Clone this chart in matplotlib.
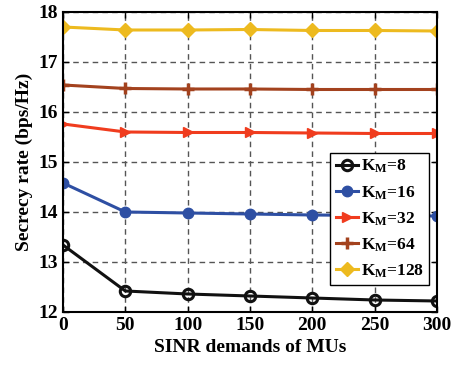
import matplotlib
matplotlib.use("Agg")
import matplotlib.pyplot as plt

x = [0, 50, 100, 150, 200, 250, 300]
k8 = [13.34, 12.42, 12.36, 12.32, 12.28, 12.24, 12.22]
k16 = [14.58, 14.00, 13.98, 13.96, 13.94, 13.93, 13.92]
k32 = [15.76, 15.60, 15.59, 15.59, 15.58, 15.57, 15.57]
k64 = [16.54, 16.47, 16.46, 16.46, 16.45, 16.45, 16.45]
k128 = [17.70, 17.64, 17.64, 17.65, 17.63, 17.63, 17.62]
labels = ["8", "16", "32", "64", "128"]

plt.rcParams['font.family'] = 'Liberation Serif'
plt.rcParams['font.weight'] = 'bold'
plt.rcParams['mathtext.fontset'] = 'custom'
plt.rcParams['mathtext.rm'] = 'Liberation Serif:bold'
plt.rcParams['mathtext.it'] = 'Liberation Serif:bold'
plt.rcParams['mathtext.bf'] = 'Liberation Serif:bold'

fig = plt.figure(figsize=(4.55, 3.69), dpi=100)
ax = fig.add_axes([0.1385, 0.1545, 0.8215, 0.813])

series = [k8, k16, k32, k64, k128]
colors = ['#111111', '#2E4FA3', '#F03C1E', '#A3421E', '#EDBA1F']
markers = ['o', 'o', '>', '+', 'D']
for s, c, m, lab in zip(series, colors, markers, labels):
    kw = dict(color=c, lw=2.2, marker=m, markersize=7.5, label=r'$\mathrm{K_M}$=' + lab)
    if lab == '8':
        kw.update(markerfacecolor='none', markeredgewidth=2.2)
    elif m == '+':
        kw.update(markeredgewidth=2.5, markersize=9)
    elif m == 'D':
        kw.update(markersize=7)
    ax.plot(x, s, **kw)

ax.set_xlim(0, 300)
ax.set_ylim(12, 18)
ax.set_xticks(x)
ax.set_yticks([12, 13, 14, 15, 16, 17, 18])
ax.tick_params(direction='in', labelsize=14, width=1, length=4, top=True, right=True)
for t in ax.get_xticklabels() + ax.get_yticklabels():
    t.set_fontweight('bold')
ax.grid(True, linestyle=(0, (4, 3)), color='#555555', lw=1)
for sp in ax.spines.values():
    sp.set_linewidth(1.5)
ax.set_xlabel('SINR demands of MUs', fontsize=14, fontweight='bold')
ax.set_ylabel('Secrecy rate (bps/Hz)', fontsize=14, fontweight='bold')

leg = ax.legend(loc='lower right', fontsize=12.5, frameon=True, fancybox=False,
                edgecolor='black', framealpha=1, handlelength=1.3, labelspacing=0.5,
                borderpad=0.3, handletextpad=0.15, borderaxespad=0,
                bbox_to_anchor=(0.979, 0.09))
leg.get_frame().set_linewidth(1.0)

fig.savefig('out.png', dpi=100)
